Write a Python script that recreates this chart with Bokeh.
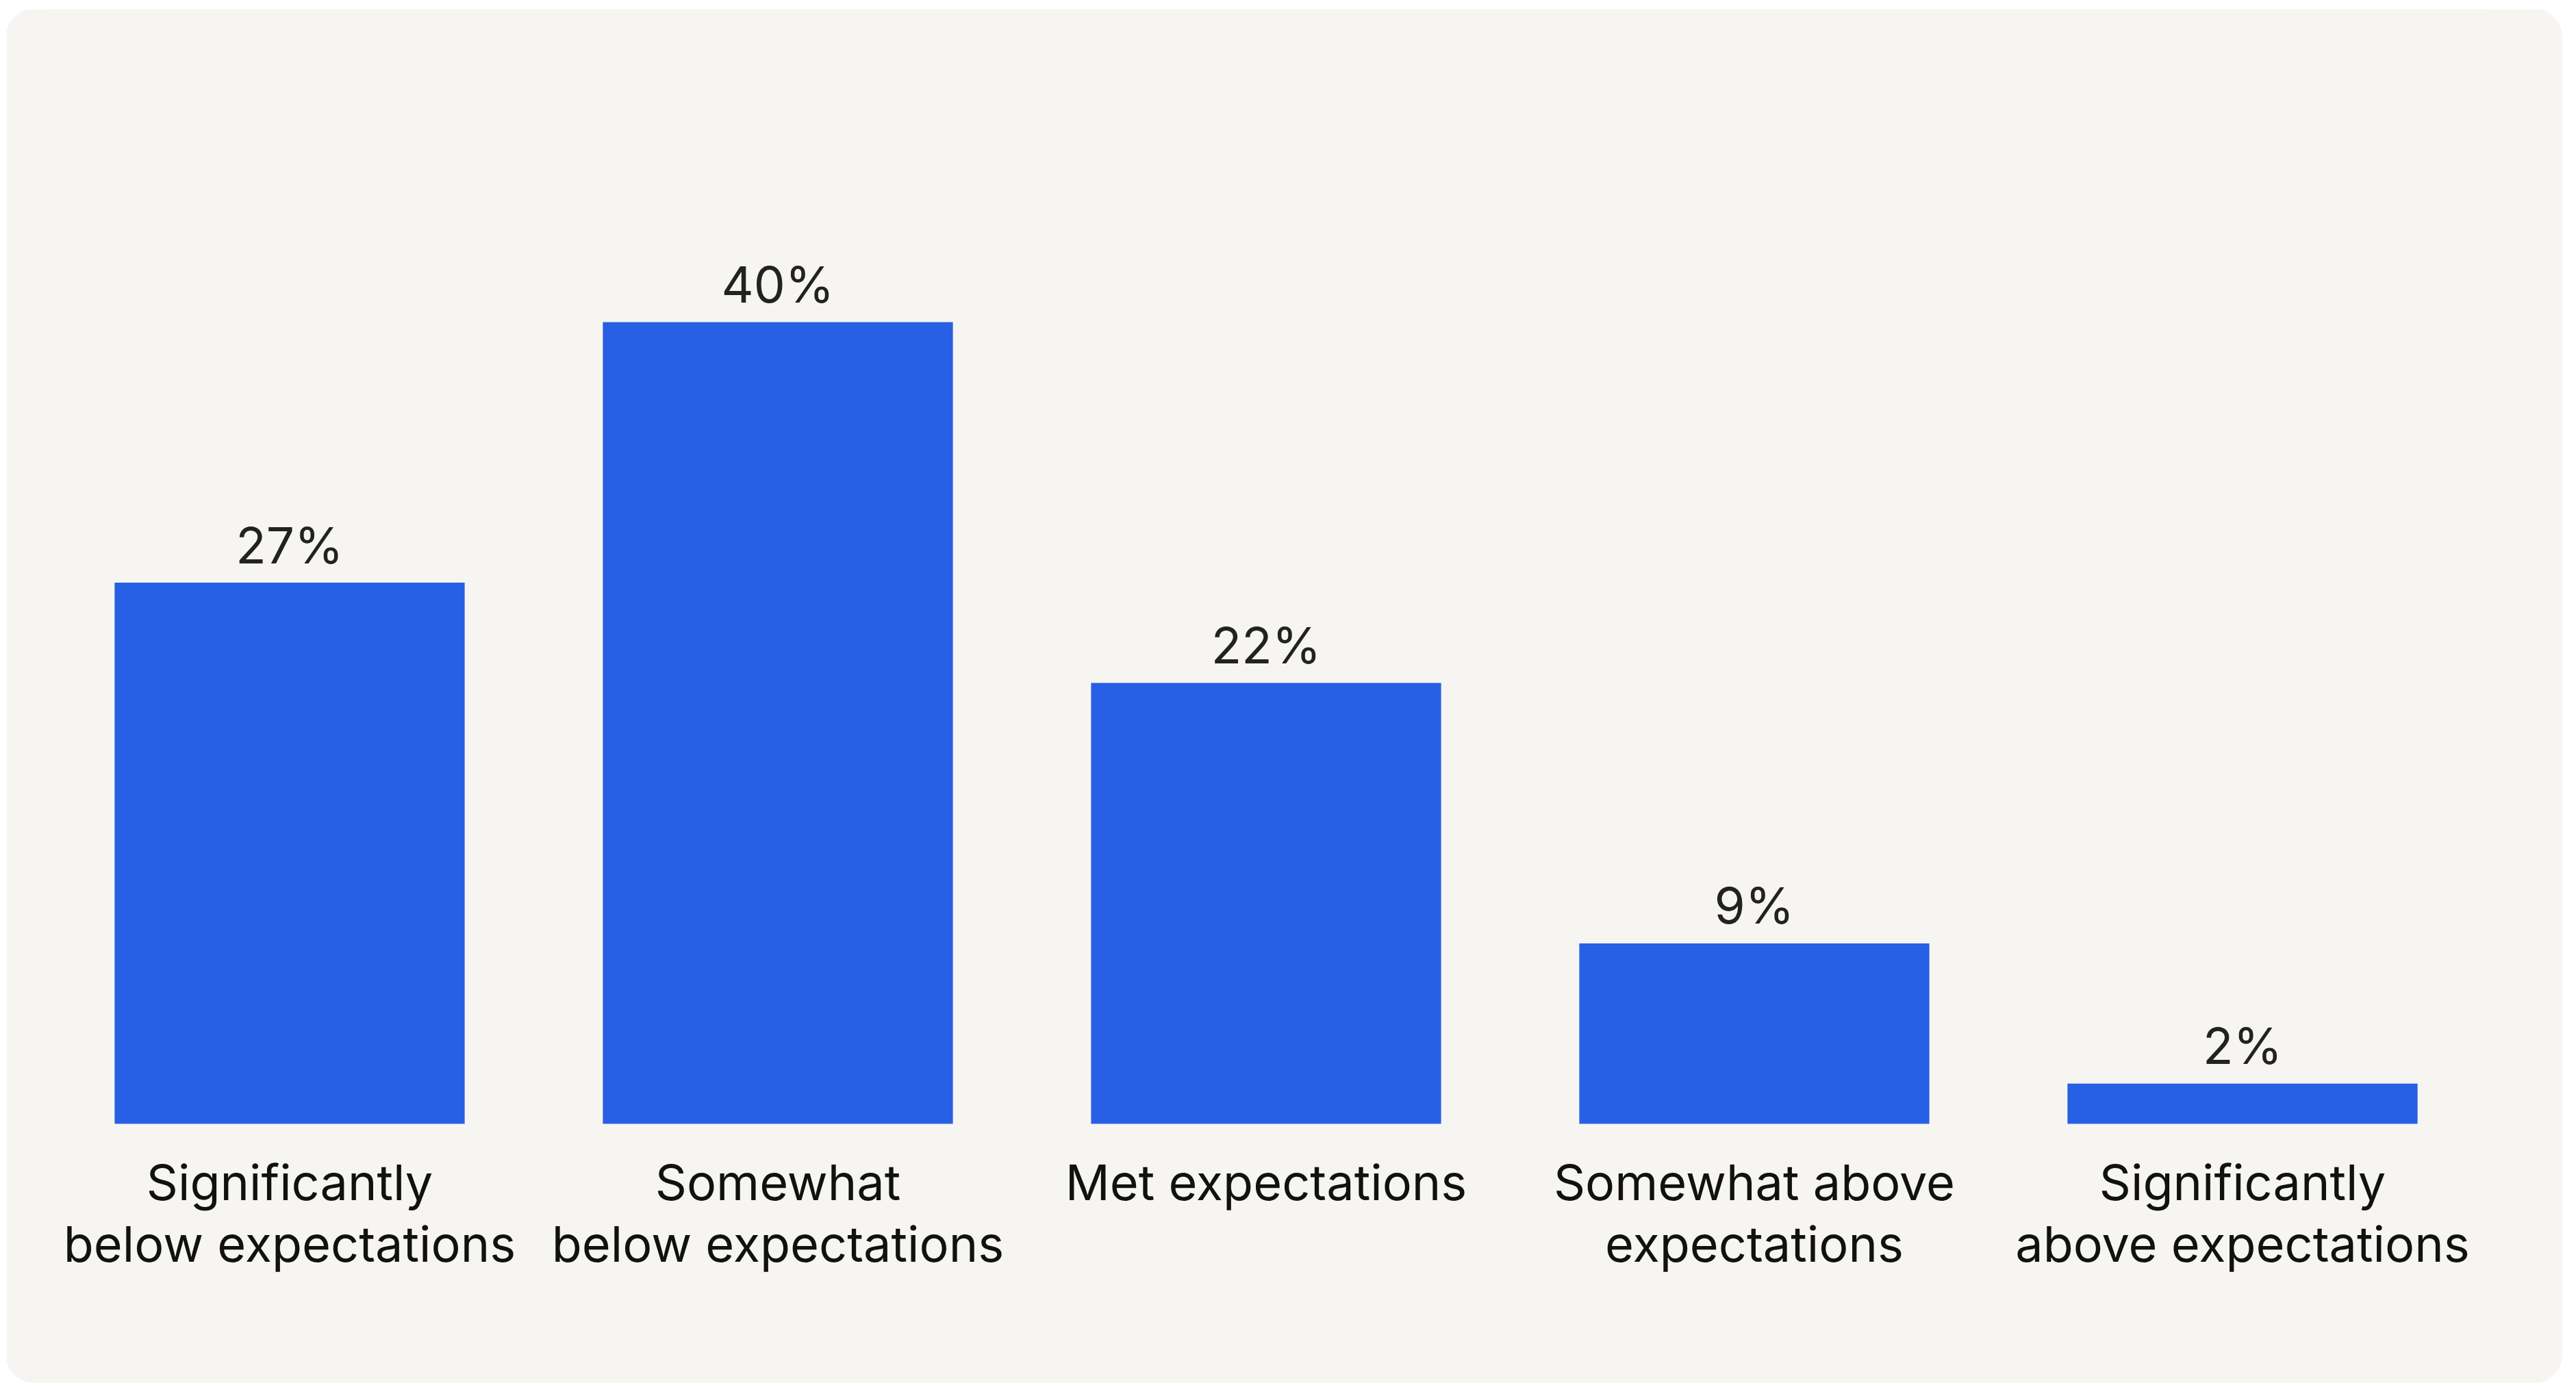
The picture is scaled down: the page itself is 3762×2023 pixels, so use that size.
from bokeh.plotting import figure
from bokeh.models import ColumnDataSource, FactorRange, Range1d
from bokeh.core.properties import value
from bokeh.embed import file_html
from bokeh.resources import INLINE

categories = ["sig_below", "some_below", "met", "some_above", "sig_above"]
labels = [
    "Significantly\nbelow expectations",
    "Somewhat\nbelow expectations",
    "Met expectations",
    "Somewhat above\nexpectations",
    "Significantly\nabove expectations",
]
values = [27, 40, 22, 9, 2]
value_labels = [f"{v}%" for v in values]

line1 = [l.split("\n")[0] for l in labels]
line2 = [l.split("\n")[1] if "\n" in l else "" for l in labels]

BAR = "#2760E5"
PANEL = "#F6F5F2"
FONT = "Inter"

src = ColumnDataSource(dict(cat=categories, val=values, vl=value_labels, l1=line1, l2=line2))

p = figure(
    x_range=FactorRange(factors=categories, range_padding=0),
    y_range=Range1d(-12.95, 55.61),
    width=3733, height=2007,
    output_backend="svg", toolbar_location=None,
    x_axis_location=None, y_axis_location=None,
    min_border_left=57, min_border_right=111,
    min_border_top=0, min_border_bottom=0,
    background_fill_color=PANEL, border_fill_color=PANEL,
    outline_line_color=None,
    margin=(13, 20, 0, 9),
)
p.styles = {"border-radius": "40px", "overflow": "hidden"}
p.xgrid.visible = False
p.ygrid.visible = False

p.vbar(x="cat", top="val", bottom=0, width=0.717, source=src, fill_color=BAR, line_color=None)

p.text(x="cat", y="val", text="vl", source=src, y_offset=-55,
       text_align="center", text_baseline="alphabetic",
       text_font=value(FONT), text_font_size="73px", text_color="#222222")

p.text(x="cat", y=0, text="l1", source=src, y_offset=85,
       text_align="center", text_baseline="alphabetic",
       text_font=value(FONT), text_font_size="72px", text_color="#111111")
p.text(x="cat", y=0, text="l2", source=src, y_offset=175,
       text_align="center", text_baseline="alphabetic",
       text_font=value(FONT), text_font_size="72px", text_color="#111111")

html = file_html(p, INLINE)
html = html.replace("<body>", '<body style="margin:0;background:#ffffff;">')
open("out.html", "w").write(html)
